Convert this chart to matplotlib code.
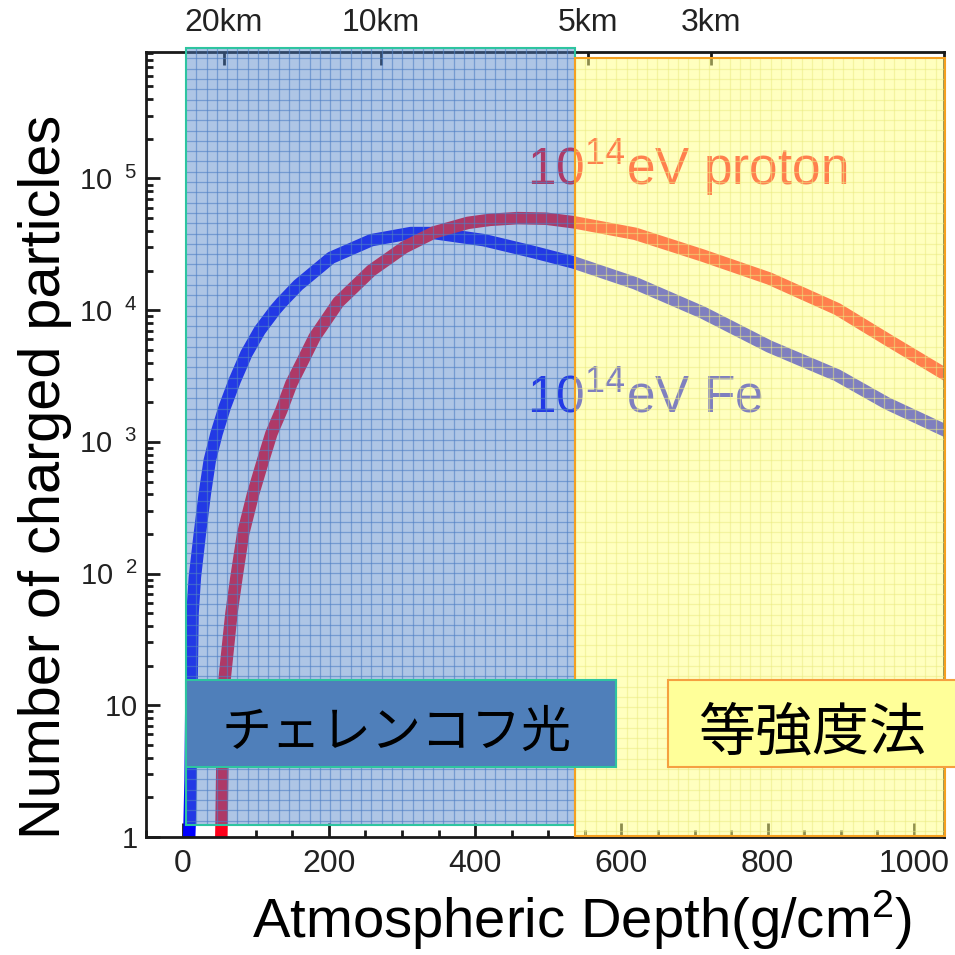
import matplotlib.pyplot as plt
from matplotlib.patches import Rectangle
from matplotlib.collections import LineCollection
import numpy as np

# shower size vs. atmospheric depth (g/cm2)
fe_depth = [7, 9.5, 10.9, 12.3, 13.6, 16.8, 23.6, 30.4, 37.2, 46.4, 57.7, 71.4, 87.3,
            105.5, 125.9, 135, 158, 203, 258, 312, 344, 412, 480, 535, 619, 711,
            802, 895, 963, 1041]
fe_count = [0.5, 1.2, 2.7, 15.5, 50, 94, 201, 405, 725, 1156, 1840, 2930, 4680,
            7030, 9960, 11400, 15500, 25000, 34000, 38500, 38500, 34000, 27600,
            23000, 16000, 9600, 5300, 3200, 1960, 1230]

proton_depth = [52, 53.2, 54.6, 57.3, 66.8, 73.7, 82.8, 96.5, 110.1, 121.4, 135.1,
                148.7, 164.7, 180.5, 213, 258, 303, 344, 390, 420, 458, 497, 535,
                619, 711, 802, 895, 963, 1041]
proton_count = [0.5, 1.2, 4.6, 15.5, 50, 94, 201, 405, 725, 1156, 1740, 2770, 4160,
                6250, 11500, 20000, 30000, 39000, 46000, 48500, 50000, 49500, 46500,
                38000, 26000, 17400, 10200, 6000, 3300]

# altitude scale on the top axis
km_depth = [56, 271, 554, 722]
km_labels = ['20km', '10km', '5km', '3km']

ytick_vals = [1, 10, 1e2, 1e3, 1e4, 1e5]
ytick_labels = [r'$\mathregular{1\quad}$', r'$\mathregular{10\quad}$',
                r'$\mathregular{10^{\enspace\,2}}$', r'$\mathregular{10^{\enspace\,3}}$',
                r'$\mathregular{10^{\enspace\,4}}$', r'$\mathregular{10^{\enspace\,5}}$']
xtick_vals = [0, 200, 400, 600, 800, 1000]

plt.rcParams['font.family'] = ['Liberation Sans', 'DejaVu Sans']
plt.rcParams['mathtext.fontset'] = 'custom'
plt.rcParams['mathtext.rm'] = 'Liberation Sans'
jp_font = ['Noto Sans CJK JP', 'DejaVu Sans']

fig = plt.figure(figsize=(9.55, 9.55), dpi=100)
ax = fig.add_axes([0.1529, 0.1236, 0.8356, 0.8219])

ax.plot(fe_depth, fe_count, color=(0.0, 0.0, 1.0), lw=9, zorder=2,
        solid_joinstyle='round')
ax.plot(proton_depth, proton_count, color=(1.0, 0.0, 0.1), lw=9, zorder=2,
        solid_joinstyle='round')

ax.set_yscale('log')
ax.set_xlim(-48, 1041)
ax.set_ylim(1, 10 ** 5.96)
ax.set_yticks(ytick_vals, labels=ytick_labels)
ax.set_xticks(xtick_vals)
ax.set_xticks(np.arange(-50, 1041, 50), minor=True)
ax.tick_params(which='both', direction='in', width=2, color='#1a1a1a',
               top=False, right=False)
ax.tick_params(which='major', length=10, labelcolor='#222222')
ax.tick_params(which='minor', length=5)
ax.tick_params(axis='x', pad=9, labelsize=23)
ax.tick_params(axis='y', pad=6, labelsize=21)
for s in ax.spines.values():
    s.set_linewidth(2)
    s.set_color('#1a1a1a')

sec = ax.secondary_xaxis('top')
sec.set_xticks(km_depth, labels=km_labels)
sec.tick_params(direction='in', length=9, width=2, color='#1a1a1a',
                labelsize=23, labelcolor='#222222', pad=10)

ax.text(0.4774, 0.8306, r'$\mathregular{10^{14}}$eV proton', transform=ax.transAxes,
        color=(1.0, 0.0, 0.1), fontsize=37, ha='left', va='baseline', zorder=2)
ax.text(0.4774, 0.540, r'$\mathregular{10^{14}}$eV Fe', transform=ax.transAxes,
        color=(0.0, 0.0, 1.0), fontsize=37, ha='left', va='baseline', zorder=2)

ax.set_xlabel(r'Atmospheric Depth(g/cm$\mathregular{^{2}}$)', fontsize=40.5)
ax.xaxis.set_label_coords(0.546, -0.066)
ax.set_ylabel('Number of charged particles', fontsize=41.5)
ax.yaxis.set_label_coords(-0.0927, 0.4586)

# pixel size of the axes, for the fine grid inside the shaded bands
ax_w = fig.get_figwidth() * fig.dpi * 0.8356
ax_h = fig.get_figheight() * fig.dpi * 0.8219


def band(x0, x1, y0, y1, face, alpha, edge, grid_color, grid_alpha):
    ax.add_patch(Rectangle((x0, y0), x1 - x0, y1 - y0, transform=ax.transAxes,
                           fc=face, alpha=alpha, ec='none', clip_on=False, zorder=3))
    dx = 10.3 / ax_w
    dy = 10.3 / ax_h
    segs = [[(x, y0), (x, y1)] for x in np.arange(x0 + dx, x1, dx)]
    segs += [[(x0, y), (x1, y)] for y in np.arange(y1 - dy, y0, -dy)]
    ax.add_collection(LineCollection(segs, colors=grid_color, alpha=grid_alpha,
                                     linewidths=0.9, transform=ax.transAxes,
                                     clip_on=False, zorder=3.5))
    ax.add_patch(Rectangle((x0, y0), x1 - x0, y1 - y0, transform=ax.transAxes,
                           fill=False, ec=edge, lw=1.5, clip_on=False, zorder=4))


band(0.050, 0.5376, 0.0153, 1.005, (0.30, 0.50, 0.78), 0.45, '#2ec4a0', '#4f7fc4', 0.6)
band(0.5376, 1.0013, 0.001, 0.992, (1.0, 1.0, 0.5), 0.5, '#f5a020', '#eaea80', 0.5)

# method labels
ax.add_patch(Rectangle((0.050, 0.0892), 0.539, 0.1108, transform=ax.transAxes,
                       fc='#4f7fba', ec='#2ec4a0', lw=1.5, clip_on=False, zorder=5))
ax.text(0.3145, 0.1325, 'チェレンコフ光', transform=ax.transAxes, ha='center',
        va='center', fontsize=36, family=jp_font, color='black', zorder=6)
ax.add_patch(Rectangle((0.654, 0.0892), 0.40, 0.1108, transform=ax.transAxes,
                       fc='#ffff99', ec='#f5a040', lw=1.5, clip_on=False, zorder=5))
ax.text(0.8346, 0.1325, '等強度法', transform=ax.transAxes, ha='center',
        va='center', fontsize=41, family=jp_font, color='black', zorder=6)

fig.savefig('out.png', dpi=100)
